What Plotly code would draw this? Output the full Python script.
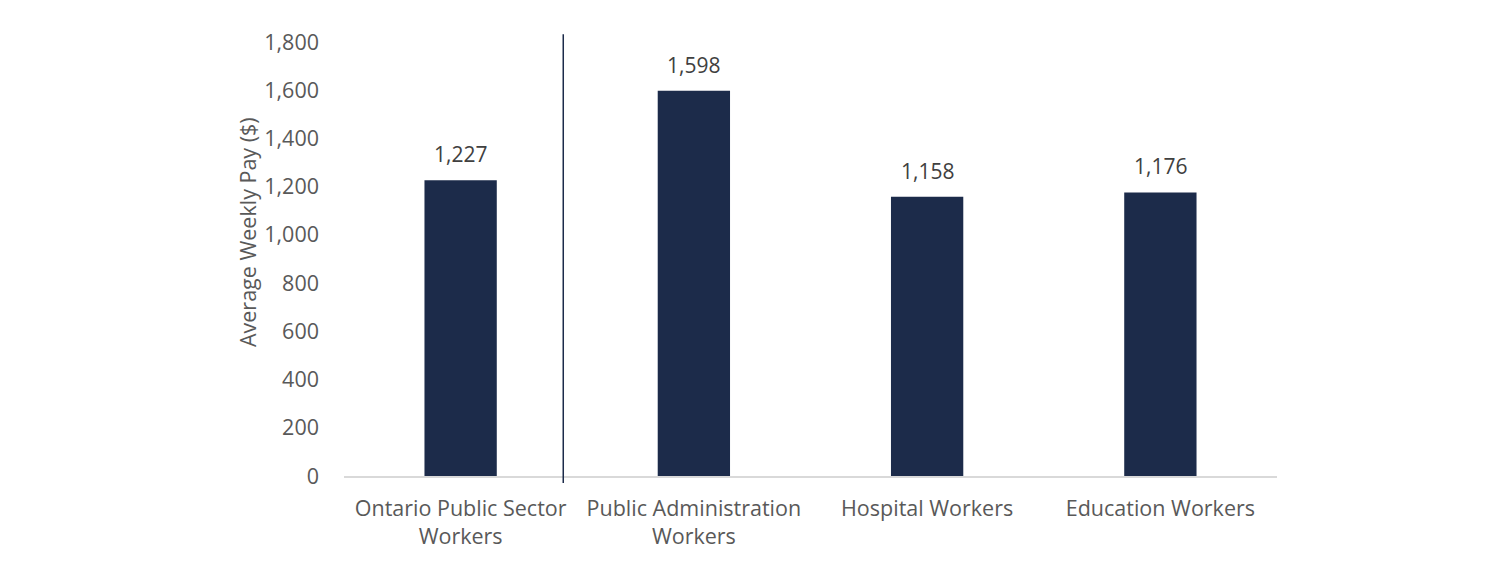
import plotly.graph_objects as go

categories = ["Ontario Public Sector<br>Workers", "Public Administration<br>Workers",
              "Hospital Workers", "Education Workers"]
values = [1227, 1598, 1158, 1176]
labels = ["1,227", "1,598", "1,158", "1,176"]
y_ticks = [0, 200, 400, 600, 800, 1000, 1200, 1400, 1600, 1800]
y_tick_labels = ["0", "200", "400", "600", "800", "1,000", "1,200", "1,400", "1,600", "1,800"]
y_title = "Average Weekly Pay ($)"

FONT = "Open Sans"
BAR = "#1c2b4a"
TXT = "#595959"
FS = 21.5

fig = go.Figure()
fig.add_trace(go.Bar(x=categories, y=values, marker=dict(color=BAR, line=dict(width=0)),
                     width=0.31, hoverinfo="skip"))

for c, v, t in zip(categories, values, labels):
    fig.add_annotation(x=c, y=v, text=t, showarrow=False, yanchor="bottom", yshift=10,
                       font=dict(family=FONT, size=21, color="#404040"))

# y-axis title, placed as in the reference (slightly above plot centre)
fig.add_annotation(xref="paper", yref="paper", x=-0.104, y=0.562, text=y_title,
                   textangle=-90, showarrow=False, xanchor="center", yanchor="middle",
                   font=dict(family=FONT, size=FS, color=TXT))

# divider between the first category and the rest
fig.add_shape(type="line", xref="x", yref="paper", x0=0.44, x1=0.44, y0=-0.016, y1=1.018,
              line=dict(color=BAR, width=1.5))

fig.update_layout(
    width=1500, height=577,
    margin=dict(l=344, r=223, t=42, b=101),
    plot_bgcolor="white", paper_bgcolor="white",
    showlegend=False,
    font=dict(family=FONT, size=FS, color=TXT),
    xaxis=dict(showline=True, linecolor="#d9d9d9", linewidth=1.5, showgrid=False,
               ticks="", ticklabelstandoff=12, tickfont=dict(size=FS, color=TXT),
               fixedrange=True),
    yaxis=dict(range=[0, 1800], tickvals=y_ticks, ticktext=y_tick_labels, showgrid=False,
               zeroline=False, showline=False, ticks="", ticklabelstandoff=24,
               tickfont=dict(size=FS, color=TXT)),
)

fig.write_html("out.html")
